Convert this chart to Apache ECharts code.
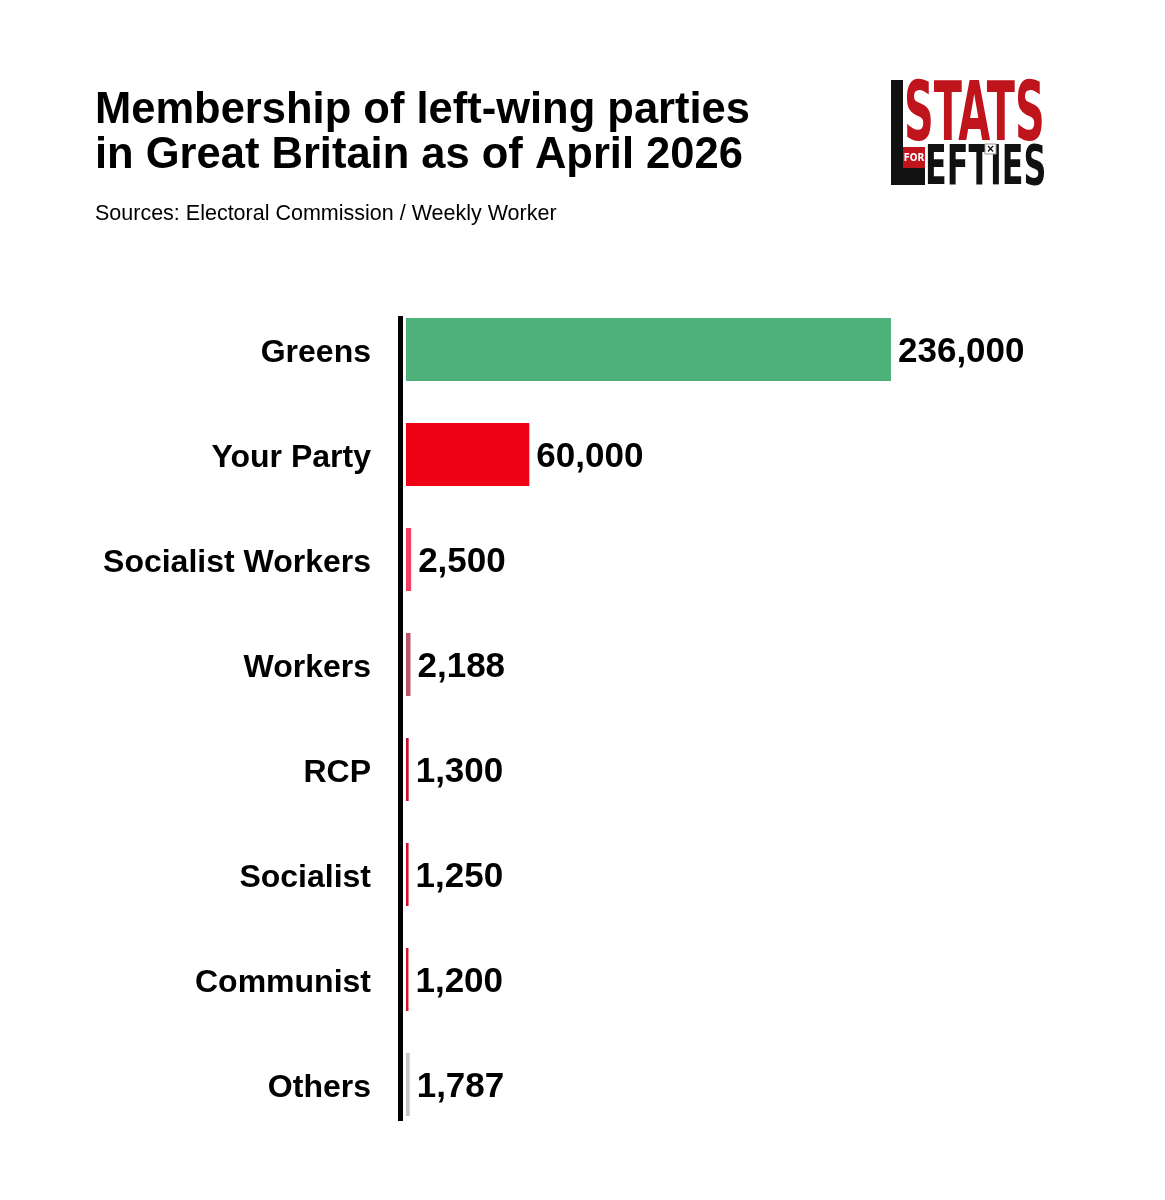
<!DOCTYPE html>
<html>
<head>
<meta charset="utf-8">
<script src="https://cdn.jsdelivr.net/npm/echarts@6/dist/echarts.min.js"></script>
<style>
html,body{margin:0;padding:0;background:#fff;}
#chart{width:1165px;height:1200px;}
</style>
</head>
<body>
<div id="chart"></div>
<script>
const categories = ['Greens', 'Your Party', 'Socialist Workers', 'Workers', 'RCP', 'Socialist', 'Communist', 'Others'];
const members = [236000, 60000, 2500, 2188, 1300, 1250, 1200, 1787];
const barColors = ['#4CB27A', '#EE0015', '#F23F63', '#B95565', '#C8102E', '#D0102E', '#D8102E', '#C6C6C6'];

const chart = echarts.init(document.getElementById('chart'));
const fontFam = '"Liberation Sans", Arial, Helvetica, sans-serif';
const narrow = '"Liberation Sans Narrow", "DejaVu Sans Condensed", "Liberation Sans", sans-serif';

chart.setOption({
  backgroundColor: '#ffffff',
  animation: false,
  title: [
    {
      text: 'Membership of left-wing parties\nin Great Britain as of April 2026',
      left: 90, top: 83,
      textStyle: {fontFamily: fontFam, fontSize: 43.5, fontWeight: 'bold', color: '#000', lineHeight: 45}
    },
    {
      text: 'Sources: Electoral Commission / Weekly Worker',
      left: 90, top: 198,
      textStyle: {fontFamily: fontFam, fontSize: 21.5, fontWeight: 'normal', color: '#000'}
    }
  ],
  grid: {left: 406, right: 142.5, top: 297, bottom: 63, containLabel: false},
  xAxis: {
    type: 'value', min: 0, max: 300000,
    show: false
  },
  yAxis: {
    type: 'category', data: categories, inverse: true,
    axisLine: {show: false}, axisTick: {show: false},
    axisLabel: {
      margin: 35,
      formatter: v => '{c|' + v + '}',
      rich: {c: {fontFamily: fontFam, fontSize: 32, fontWeight: 'bold', color: '#000', padding: [7, 0, 0, 0]}}
    }
  },
  series: [{
    type: 'bar',
    barWidth: '60%',
    data: members.map((v, i) => ({value: v, itemStyle: {color: barColors[i]}})),
    label: {
      show: true, position: 'right', distance: 7, offset: [0, 3],
      fontFamily: fontFam, fontSize: 35, fontWeight: 'bold', color: '#000',
      formatter: p => p.value.toLocaleString('en-GB')
    }
  }],
  graphic: [
    {type: 'rect', shape: {x: 398, y: 316, width: 5, height: 805}, style: {fill: '#000'}, z: 10},
    // logo
    {type: 'rect', shape: {x: 891, y: 80, width: 12, height: 105}, style: {fill: '#111'}},
    {type: 'rect', shape: {x: 891, y: 168, width: 34, height: 17}, style: {fill: '#111'}},
    {type: 'rect', shape: {x: 903, y: 147, width: 22, height: 21}, style: {fill: '#C0141C'}},
    {type: 'text', x: 914, y: 158, style: {text: 'FOR', fill: '#fff', font: 'bold 10px ' + narrow, align: 'center', verticalAlign: 'middle'}},
    {type: 'text', x: 904, y: 78, scaleX: 0.56, scaleY: 1, style: {text: 'STATS', fill: '#C0141C', font: 'bold 82px ' + narrow, align: 'left', verticalAlign: 'top'}},
    {type: 'text', x: 925, y: 141, scaleX: 0.63, scaleY: 1, style: {text: 'EFTIES', fill: '#111', font: 'bold 56px ' + narrow, align: 'left', verticalAlign: 'top'}},
    {type: 'rect', shape: {x: 985, y: 144, width: 11, height: 10}, style: {fill: '#fff', stroke: '#999', lineWidth: 1}},
    {type: 'text', x: 990.5, y: 149.5, style: {text: '×', fill: '#111', font: 'bold 12px ' + fontFam, align: 'center', verticalAlign: 'middle'}}
  ]
});
</script>
</body>
</html>
